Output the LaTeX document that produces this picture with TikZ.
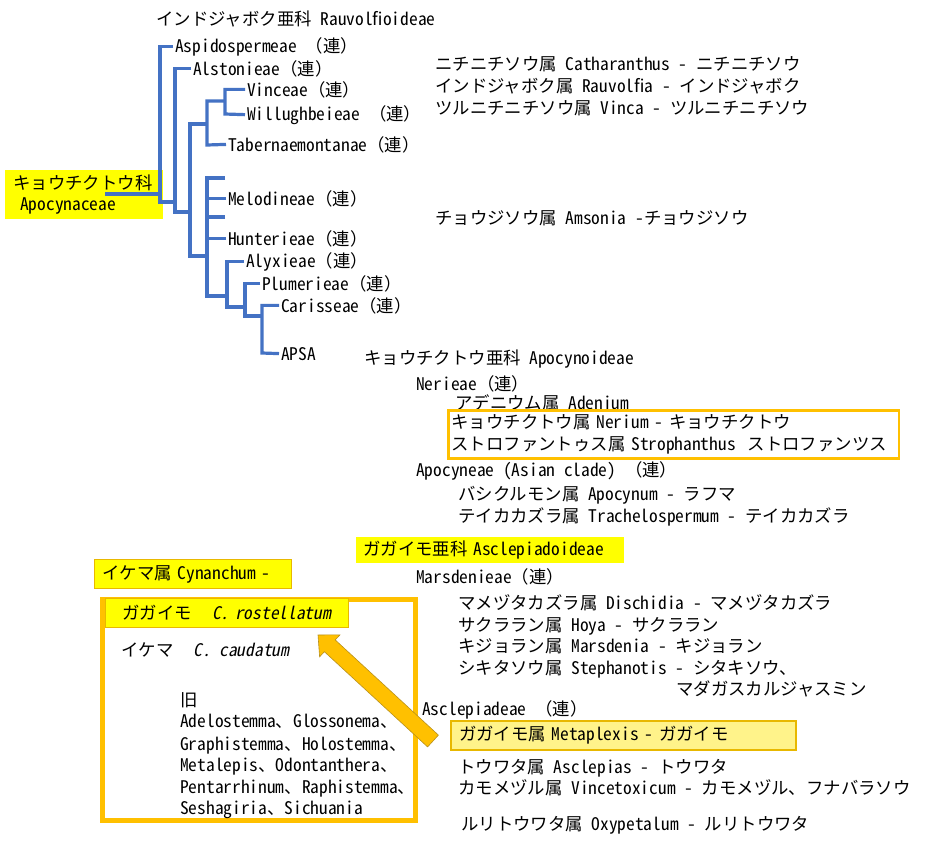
\documentclass[tikz,border=0pt]{standalone}
\usepackage{fontspec}
\setmainfont{Noto Sans CJK JP}[RawFeature=+hwid,
  ItalicFont=Noto Sans CJK JP, ItalicFeatures={FakeSlant=0.2}]
\newfontfamily\fwfont{Noto Sans CJK JP}
\newcommand{\ren}{{\fwfont（連）}}
\usetikzlibrary{calc}
\definecolor{cladeblue}{HTML}{4472C4}
\definecolor{markyellow}{HTML}{FFFF00}
\definecolor{markgold}{HTML}{E8B800}
\definecolor{markorange}{HTML}{FFC000}
\definecolor{paleyellow}{HTML}{FFF38A}
\definecolor{arrowedge}{HTML}{B8901C}

\begin{document}
\begin{tikzpicture}[
x=1pt,y=-1pt,
every node/.style={font=\fontsize{17.4}{21.5}\selectfont},
lbl/.style={anchor=base west,inner sep=0pt},
clade/.style={draw=cladeblue,line width=3.2pt},
ybox/.style={fill=markyellow,anchor=north west,inner xsep=8pt,inner ysep=0pt,align=left},
goldbox/.style={ybox,draw=markgold,line width=1pt},
ringbox/.style={draw=markorange,anchor=north west,inner ysep=0pt,align=left}
]
\useasboundingbox[fill=white] (0,0) rectangle (948,844);

% Rauvolfioideae side
\node[ybox,text width=142pt,minimum height=49pt] (fam) at (5,170)
  {キョウチクトウ科\\\hspace*{7pt}Apocynaceae};
\node[lbl] (rauvsub) at (156,25) {インドジャボク亜科 Rauvolfioideae};
\node[lbl] (aspido) at (175,52) {Aspidospermeae \ren};
\node[lbl] (alston) at (193,75) {Alstonieae\ren};
\node[lbl] (vince) at (247,96) {Vinceae\ren};
\node[lbl] (willu) at (247,120) {Willughbeieae \ren};
\node[lbl] (taber) at (228,151) {Tabernaemontanae\ren};
\node[lbl] (melo) at (228,205) {Melodineae\ren};
\node[lbl] (hunter) at (228,245) {Hunterieae\ren};
\node[lbl] (alyx) at (246,267) {Alyxieae\ren};
\node[lbl] (plum) at (262,290) {Plumerieae\ren};
\node[lbl] (caris) at (281,312) {Carisseae\ren};
\node[lbl] (apsa) at (281,360) {APSA};

\coordinate (root) at (105,194);
\coordinate (e1) at (225,178);
\coordinate (e2) at (225,217);
\draw[clade] (root) -- (160,194);
\draw[clade] ([xshift=-2pt]aspido.west) -| (160,202) -- (175,202);
\draw[clade] ([xshift=-2pt]alston.west) -| (175,212) -- (190,212);
\draw[clade] (207,124) -- (190,124) -- (190,256) -- (207,256);
\draw[clade] (225,101) -| (207,145) -- ([xshift=-2pt]taber.west);
\draw[clade] ([xshift=-2pt]vince.west) -| (225,114) -- ([xshift=-2pt]willu.west);
\draw[clade] (e1) -| (207,296) -- (227,296);
\draw[clade] ([xshift=-2pt]melo.west) -- ++(-19,0);
\draw[clade] (e2) -- ++(-18,0);
\draw[clade] ([xshift=-2pt]hunter.west) -- ++(-19,0);
\draw[clade] ([xshift=-2pt]alyx.west) -| (227,307) -- (245,307);
\draw[clade] ([xshift=-2pt]plum.west) -| (245,316) -- (262,316);
\draw[clade] ([xshift=-2pt]caris.west) -| (262,353) -- ([xshift=-2pt]apsa.west);

\node[lbl] (catha) at (435,70) {ニチニチソウ属 Catharanthus - ニチニチソウ};
\node[lbl] (rauvol) at (435,92) {インドジャボク属 Rauvolfia - インドジャボク};
\node[lbl] (vinca) at (435,114) {ツルニチニチソウ属 Vinca - ツルニチニチソウ};
\node[lbl] (amson) at (435,224) {チョウジソウ属 Amsonia -チョウジソウ};

% Apocynoideae
\node[lbl] (apocsub) at (364,364) {キョウチクトウ亜科 Apocynoideae};
\node[lbl] (nerieae) at (416,390) {Nerieae\ren};
\node[lbl] (adenium) at (455,409) {アデニウム属 Adenium};
\node[ringbox,line width=2.5pt,text width=444pt,minimum height=48pt] (nerium) at (447,409)
  {キョウチクトウ属 Nerium - キョウチクトウ\\ストロファントゥス属 Strophanthus\hspace{12pt}ストロファンツス};
\node[lbl] (apocyneae) at (416,476) {Apocyneae (Asian clade) \ren};
\node[lbl] (apocynum) at (458,500) {バシクルモン属 Apocynum - ラフマ};
\node[lbl] (trachel) at (458,522) {テイカカズラ属 Trachelospermum - テイカカズラ};

% Asclepiadoideae
\node[ybox,inner xsep=7pt,text width=254pt,minimum height=26pt] (asclsub) at (356,537)
  {ガガイモ亜科 Asclepiadoideae};
\node[lbl] (marsdeae) at (416,583) {Marsdenieae\ren};
\node[lbl] (dischid) at (458,609) {マメヅタカズラ属 Dischidia - マメヅタカズラ};
\node[lbl] (hoya) at (458,631) {サクララン属 Hoya - サクララン};
\node[lbl] (marsden) at (458,652) {キジョラン属 Marsdenia - キジョラン};
\node[lbl] (stephan) at (458,674) {シキタソウ属 Stephanotis - シタキソウ、};
\node[lbl] (madaga) at (676,695) {マダガスカルジャスミン};
\node[lbl] (asclpdeae) at (422,715) {Asclepiadeae \ren};
\node[goldbox,fill=paleyellow,line width=2pt,text width=329pt,minimum height=29pt] (metap) at (450,720)
  {ガガイモ属 Metaplexis - ガガイモ};
\node[lbl] (asclep) at (458,773) {トウワタ属 Asclepias - トウワタ};
\node[lbl] (vincet) at (458,794) {カモメヅル属 Vincetoxicum - カモメヅル、フナバラソウ};
\node[lbl] (oxypet) at (461,830) {ルリトウワタ属 Oxypetalum - ルリトウワタ};

% Cynanchum
\node[goldbox,text width=181pt,minimum height=29pt] (cynan) at (94,559) {イケマ属 Cynanchum -};
\node[ringbox,line width=5pt,inner sep=0pt,minimum width=313pt,minimum height=221pt] (cynbox) at (99.5,596.5) {};
\node[goldbox,inner xsep=17pt,text width=209pt,minimum height=29pt] (rostel) at (105,598)
  {ガガイモ\hspace{20pt}\textit{C. rostellatum}};
\node[lbl] (ikema) at (121,656) {イケマ\hspace{20pt}\textit{C. caudatum}};
\node[lbl] (kyu) at (180,706) {旧};
\node[lbl] (old1) at (180,727) {Adelostemma、Glossonema、};
\node[lbl] (old2) at (180,750) {Graphistemma、Holostemma、};
\node[lbl] (old3) at (180,771) {Metalepis、Odontanthera、};
\node[lbl] (old4) at (180,793) {Pentarrhinum、Raphistemma、};
\node[lbl] (old5) at (180,814) {Seshagiria、Sichuania};

% block arrow
\coordinate (tail) at (433,741);
\coordinate (tip) at (318,635);
\filldraw[fill=markorange,draw=arrowedge,line width=0.6pt]
  (438.4,735.1) -- (335.2,639.9) -- (340.0,634.8) -- (tip) -- (319.6,656.8)
  -- (324.4,651.7) -- (427.6,746.9) -- cycle;
\end{tikzpicture}
\end{document}
